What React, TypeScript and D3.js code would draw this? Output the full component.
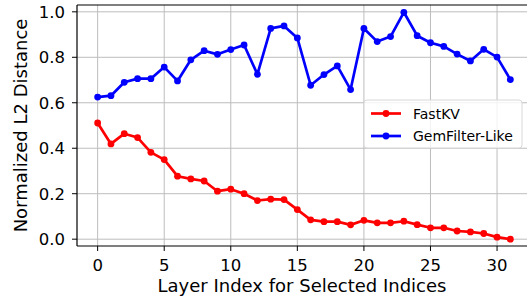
import { useRef, useEffect } from "react";
import * as d3 from "d3";

const layers = d3.range(32);

const fastKV = [
  0.511, 0.419, 0.464, 0.447, 0.382, 0.35, 0.277, 0.265, 0.256, 0.211, 0.22,
  0.2, 0.17, 0.176, 0.174, 0.13, 0.085, 0.077, 0.077, 0.063, 0.083, 0.072,
  0.072, 0.079, 0.064, 0.05, 0.05, 0.036, 0.032, 0.025, 0.009, 0.0,
];

const gemFilter = [
  0.625, 0.631, 0.69, 0.706, 0.706, 0.757, 0.696, 0.789, 0.829, 0.813, 0.834,
  0.854, 0.725, 0.927, 0.938, 0.885, 0.677, 0.724, 0.762, 0.658, 0.927, 0.869,
  0.891, 0.998, 0.895, 0.864, 0.848, 0.814, 0.784, 0.835, 0.801, 0.702,
];

const xTicks = [0, 5, 10, 15, 20, 25, 30];
const yTicks = [0.0, 0.2, 0.4, 0.6, 0.8, 1.0];

const seriesNames = ["FastKV", "GemFilter-Like"];
const seriesColors = ["#ff0000", "#0000ff"];

export default function App() {
  const svgRef = useRef<SVGSVGElement>(null);
  const width = 527;
  const height = 300;

  useEffect(() => {
    const svg = d3.select(svgRef.current);
    svg.selectAll("*").remove();

    const left = 77;
    const top = 5;
    const bottom = 246;

    const x = d3.scaleLinear().domain([-1.55, 32.55]).range([left, 531]);
    const y = d3.scaleLinear().domain([-0.03, 1.03]).range([bottom, top]);

    const font = "DejaVu Sans, sans-serif";

    // grid
    const grid = svg.append("g");
    grid
      .selectAll("line.gx")
      .data(xTicks)
      .enter()
      .append("line")
      .attr("x1", (d) => x(d))
      .attr("x2", (d) => x(d))
      .attr("y1", top)
      .attr("y2", bottom)
      .attr("stroke", "#bdbdbd")
      .attr("stroke-width", 1);
    grid
      .selectAll("line.gy")
      .data(yTicks)
      .enter()
      .append("line")
      .attr("x1", left)
      .attr("x2", width)
      .attr("y1", (d) => y(d))
      .attr("y2", (d) => y(d))
      .attr("stroke", "#bdbdbd")
      .attr("stroke-width", 1);

    // series
    const allSeries = [fastKV, gemFilter];
    const line = d3
      .line<number>()
      .x((_, i) => x(layers[i]))
      .y((d) => y(d));

    allSeries.forEach((vals, si) => {
      svg
        .append("path")
        .datum(vals)
        .attr("d", line)
        .attr("fill", "none")
        .attr("stroke", seriesColors[si])
        .attr("stroke-width", 2.7)
        .attr("stroke-linejoin", "round");
      svg
        .append("g")
        .selectAll("circle")
        .data(vals)
        .enter()
        .append("circle")
        .attr("cx", (_, i) => x(layers[i]))
        .attr("cy", (d) => y(d))
        .attr("r", 3.4)
        .attr("fill", seriesColors[si]);
    });

    // spines
    svg
      .append("line")
      .attr("x1", left)
      .attr("x2", left)
      .attr("y1", top)
      .attr("y2", bottom)
      .attr("stroke", "black")
      .attr("stroke-width", 1.2);
    svg
      .append("line")
      .attr("x1", left)
      .attr("x2", width)
      .attr("y1", bottom)
      .attr("y2", bottom)
      .attr("stroke", "black")
      .attr("stroke-width", 1.2);
    svg
      .append("line")
      .attr("x1", left)
      .attr("x2", width)
      .attr("y1", top)
      .attr("y2", top)
      .attr("stroke", "black")
      .attr("stroke-width", 1.2);

    // x ticks
    const xt = svg.append("g");
    xt.selectAll("line")
      .data(xTicks)
      .enter()
      .append("line")
      .attr("x1", (d) => x(d))
      .attr("x2", (d) => x(d))
      .attr("y1", bottom)
      .attr("y2", bottom + 5)
      .attr("stroke", "black")
      .attr("stroke-width", 1);
    xt.selectAll("text")
      .data(xTicks)
      .enter()
      .append("text")
      .attr("x", (d) => x(d))
      .attr("y", 271)
      .attr("text-anchor", "middle")
      .attr("font-family", font)
      .attr("font-size", 16.5)
      .text((d) => String(d));

    // y ticks
    const yt = svg.append("g");
    yt.selectAll("line")
      .data(yTicks)
      .enter()
      .append("line")
      .attr("x1", left - 5)
      .attr("x2", left)
      .attr("y1", (d) => y(d))
      .attr("y2", (d) => y(d))
      .attr("stroke", "black")
      .attr("stroke-width", 1);
    yt.selectAll("text")
      .data(yTicks)
      .enter()
      .append("text")
      .attr("x", 65)
      .attr("y", (d) => y(d))
      .attr("dy", "0.36em")
      .attr("text-anchor", "end")
      .attr("font-family", font)
      .attr("font-size", 16.5)
      .text((d) => d.toFixed(1));

    // axis labels
    svg
      .append("text")
      .attr("x", 302)
      .attr("y", 292)
      .attr("text-anchor", "middle")
      .attr("font-family", font)
      .attr("font-size", 18)
      .text("Layer Index for Selected Indices");
    svg
      .append("text")
      .attr("transform", `translate(27, ${(top + bottom) / 2}) rotate(-90)`)
      .attr("text-anchor", "middle")
      .attr("font-family", font)
      .attr("font-size", 18)
      .text("Normalized L2 Distance");

    // legend
    const lg = svg.append("g").attr("transform", "translate(364, 100)");
    lg.append("rect")
      .attr("width", 158)
      .attr("height", 48)
      .attr("rx", 3)
      .attr("fill", "white")
      .attr("fill-opacity", 0.8)
      .attr("stroke", "#d8d8d8")
      .attr("stroke-width", 1);
    seriesNames.forEach((name, i) => {
      const ly = 13.5 + i * 22.5;
      lg.append("line")
        .attr("x1", 7)
        .attr("x2", 37)
        .attr("y1", ly)
        .attr("y2", ly)
        .attr("stroke", seriesColors[i])
        .attr("stroke-width", 2.7);
      lg.append("circle")
        .attr("cx", 22)
        .attr("cy", ly)
        .attr("r", 3.4)
        .attr("fill", seriesColors[i]);
      lg.append("text")
        .attr("x", 49)
        .attr("y", ly)
        .attr("dy", "0.36em")
        .attr("font-family", font)
        .attr("font-size", 14)
        .text(name);
    });
  }, []);

  return (
    <svg
      ref={svgRef}
      width={width}
      height={height}
      style={{ position: "absolute", left: 0, top: 0, background: "white" }}
    />
  );
}
